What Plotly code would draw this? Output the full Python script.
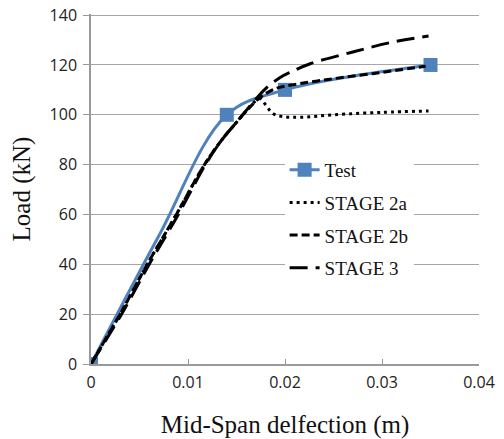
import plotly.graph_objects as go

# ---- data ----
test_x = [0, 0.007, 0.014, 0.02, 0.035]
test_y = [0, 51.5, 100, 110, 120]
test_is_point = [1, 0, 1, 1, 1]

s2a_x = [0, 0.003, 0.0058, 0.0088, 0.0117, 0.0135, 0.015, 0.016, 0.0168, 0.0174, 0.018, 0.0185, 0.019, 0.02, 0.0216, 0.025, 0.03, 0.0348]
s2a_y = [0, 20, 40, 60, 80, 90, 97, 101.5, 105, 106.5, 104, 101.5, 100, 99.2, 99, 100, 101, 101.5]

s2b_x = [0, 0.003, 0.0058, 0.0088, 0.0117, 0.0135, 0.015, 0.016, 0.017, 0.018, 0.019, 0.02, 0.0215, 0.0232, 0.025, 0.029, 0.0345]
s2b_y = [0, 20, 40, 60, 80, 90, 97, 101.5, 105.5, 108.5, 110.5, 111.5, 112.5, 113.5, 114.5, 116.5, 119.5]

s3_x = [0, 0.003, 0.006, 0.009, 0.0118, 0.0135, 0.015, 0.0165, 0.018, 0.0195, 0.0205, 0.0226, 0.0268, 0.0309, 0.0348]
s3_y = [0, 19, 40, 60, 80, 90, 97, 104, 110.5, 115, 117, 120.5, 125, 129, 131.6]

x_ticks = [0, 0.01, 0.02, 0.03, 0.04]
x_tick_labels = ["0", "0.01", "0.02", "0.03", "0.04"]
y_ticks = [0, 20, 40, 60, 80, 100, 120, 140]

BLUE = "#4F81BD"

fig = go.Figure()
fig.add_trace(go.Scatter(
    x=test_x, y=test_y, name="Test", mode="lines+markers",
    line=dict(color=BLUE, width=3, shape="spline", smoothing=1),
    marker=dict(symbol="square", size=14,
                color=[BLUE if p else "rgba(0,0,0,0)" for p in test_is_point]),
    legendgroup="a"))
fig.add_trace(go.Scatter(
    x=s2a_x, y=s2a_y, name="STAGE 2a", mode="lines",
    line=dict(color="black", width=3, dash="3px,4px", shape="spline", smoothing=1),
    legendgroup="b"))
fig.add_trace(go.Scatter(
    x=s2b_x, y=s2b_y, name="STAGE 2b", mode="lines",
    line=dict(color="black", width=3, dash="8px,4px", shape="spline", smoothing=1),
    legendgroup="c"))
fig.add_trace(go.Scatter(
    x=s3_x, y=s3_y, name="STAGE 3", mode="lines",
    line=dict(color="black", width=3, dash="18px,8px", shape="spline", smoothing=1),
    legendgroup="d"))

fig.update_layout(
    width=504, height=439,
    margin=dict(l=91, r=25, t=14, b=75),
    paper_bgcolor="white", plot_bgcolor="white",
    font=dict(family="Open Sans", size=16, color="#222"),
    legend=dict(
        x=0.499, y=0.609, xanchor="left", yanchor="top",
        bgcolor="white", borderwidth=0,
        font=dict(family="Liberation Serif", size=19, color="#111"),
        traceorder="grouped", tracegroupgap=5, itemwidth=30,
    ),
    xaxis=dict(
        range=[0, 0.04], tickvals=x_ticks, ticktext=x_tick_labels,
        showgrid=False, zeroline=False, automargin=False,
        showline=True, linecolor="#999", linewidth=1.5,
        ticks="inside", ticklen=5, tickcolor="#999", ticklabelstandoff=3,
        ticklabeloverflow="allow",
        tickfont=dict(family="Open Sans", size=16, color="#222"),
        title=dict(text="Mid-Span delfection (m)", standoff=24,
                   font=dict(family="Liberation Serif", size=25, color="#111")),
    ),
    yaxis=dict(
        range=[0, 140.45], tickvals=y_ticks,
        showgrid=True, gridcolor="#a6a6a6", gridwidth=1,
        zeroline=False, automargin=False,
        showline=True, linecolor="#999", linewidth=1.5,
        ticks="outside", ticklen=6, tickcolor="#999", ticklabelstandoff=3,
        ticklabeloverflow="allow",
        tickfont=dict(family="Open Sans", size=16, color="#222"),
        title=dict(text="Load (kN)", standoff=12,
                   font=dict(family="Liberation Serif", size=25, color="#111")),
    ),
    showlegend=True,
)

fig.write_html("out.html",
               config={"displayModeBar": False},
               post_script="document.body.style.margin='0';document.body.style.overflow='hidden';")
